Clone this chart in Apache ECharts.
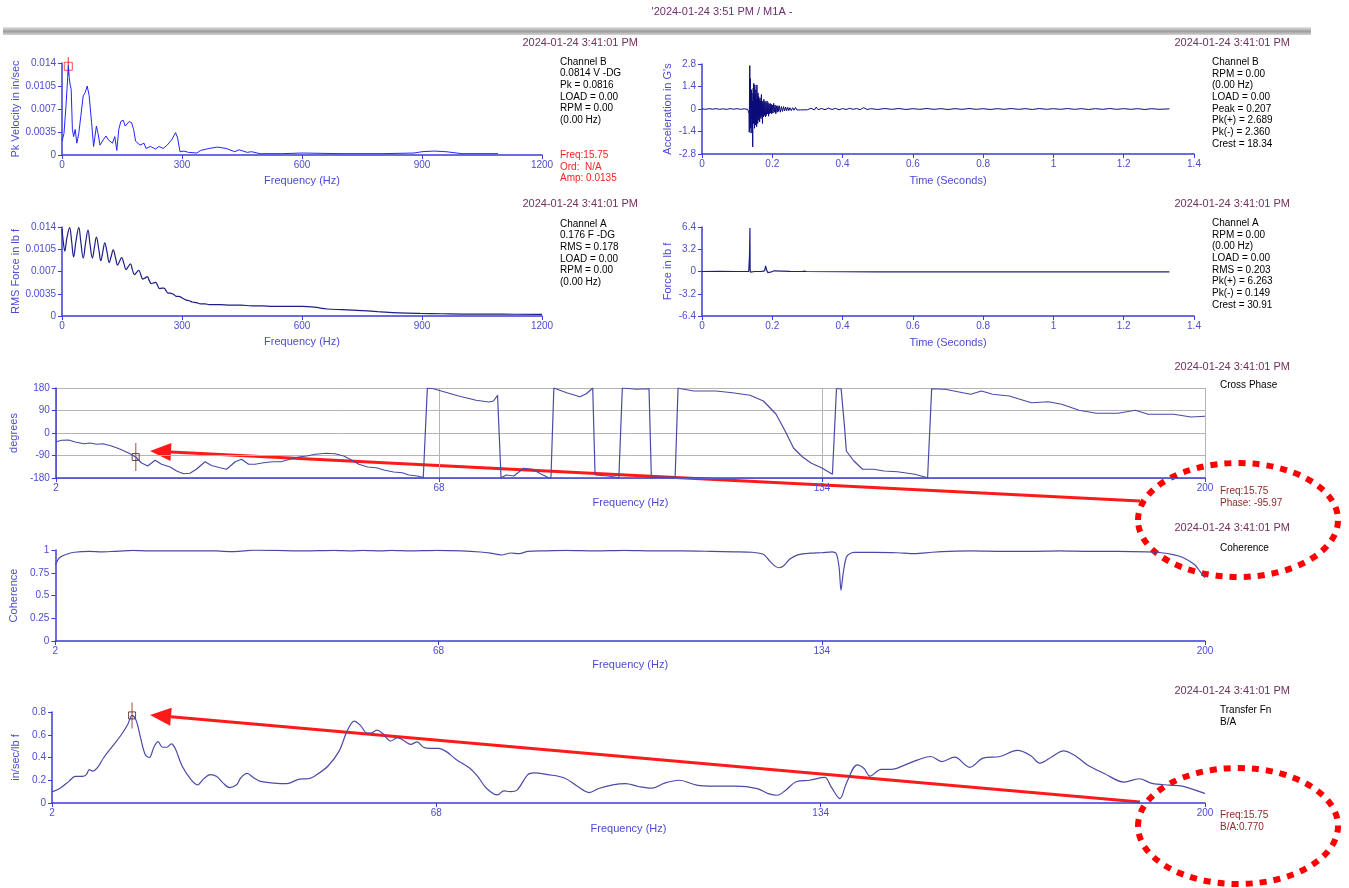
<!doctype html>
<html lang="en">
<head>
<meta charset="UTF-8" />
<title>2024-01-24 3:51 PM / M1A</title>
<script src="https://cdn.jsdelivr.net/npm/echarts@6.0.0/dist/echarts.min.js"></script>
<style>html,body{margin:0;padding:0;background:#fff;}</style>
</head>
<body>
<div id="main" style="width:1349px;height:888px"></div>
<script>
// ---- data ----
// Channel B velocity spectrum: [Hz, in/sec]
const velocitySpectrum = [[0,0.0021],[5,0.0033],[10,0.0075],[16,0.0136],[18,0.0118],[20,0.0108],[23,0.010],[26,0.0039],[29,0.0028],[33,0.0039],[37,0.0018],[42,0.0033],[47,0.0059],[53,0.009],[58,0.0095],[63,0.0105],[68,0.009],[74,0.0049],[79,0.0013],[86,0.0044],[90,0.0033],[95,0.0015],[103,0.0023],[110,0.0029],[116,0.0023],[126,0.0018],[132,0.0028],[137,0.0007],[142,0.0039],[147,0.0051],[153,0.0053],[158,0.0044],[163,0.0046],[168,0.0051],[174,0.0049],[179,0.0039],[184,0.0021],[195,0.0015],[205,0.0018],[210,0.001],[221,0.0013],[234,0.0009],[242,0.0013],[253,0.001],[263,0.0015],[274,0.0023],[284,0.0034],[289,0.0026],[295,0.0005],[305,0.0006],[316,0.0004],[337,0.0003],[347,0.0007],[368,0.001],[389,0.0012],[410,0.001],[432,0.0005],[442,0.0008],[463,0.0004],[474,0.0005],[495,0.0002],[550,0.0002],[600,0.0003],[700,0.0002],[800,0.0002],[880,0.0003],[900,0.0005],[930,0.0006],[960,0.0005],[1000,0.0002],[1090,0.0002]];

// Channel B acceleration time wave: [s, G]
const accelWave = [[0,0.01],[0.01,-0.02],[0.02,0.02],[0.03,-0.01],[0.04,0.02],[0.05,-0.02],[0.06,0.01],[0.07,-0.02],[0.08,0.02],[0.09,-0.01],[0.10,0.02],[0.11,-0.02],[0.12,0.01],[0.13,-0.02],[0.133,0],
[0.134,-0.3],[0.1345,-1.45],[0.135,0.4],[0.136,2.7],[0.1368,-0.8],[0.1375,1.9],[0.1383,-1.2],[0.139,0.9],[0.1398,-1.5],[0.1405,1.2],[0.1413,-0.6],[0.142,1.0],[0.1428,-1.1],[0.1435,0.5],[0.1443,-2.36],[0.145,0.6],[0.1458,1.3],[0.1465,-0.9],[0.1473,1.6],[0.148,-0.7],[0.1488,0.8],[0.1495,-1.2],[0.1503,1.5],[0.151,-0.5],[0.1518,0.9],[0.1525,-1.0],[0.1533,1.2],[0.154,-0.8],[0.1548,0.6],[0.1555,-1.1],[0.1563,1.5],[0.157,-0.6],[0.1578,0.7],[0.1585,-0.9],[0.1593,1.0],[0.16,-0.7],[0.161,0.8],[0.162,-0.6],[0.163,0.6],[0.164,-0.8],[0.165,0.7],[0.166,-0.5],[0.167,0.5],[0.168,-0.6],[0.169,0.9],[0.17,-0.4],[0.171,0.5],[0.172,-0.9],[0.173,0.4],[0.1745,-0.5],[0.176,0.6],[0.1775,-0.4],[0.179,0.5],[0.1805,-0.5],[0.182,0.4],[0.1835,-0.4],[0.185,0.5],[0.1865,-0.3],[0.188,0.4],[0.1895,-0.45],[0.191,0.3],[0.1925,-0.3],[0.194,0.35],[0.1955,-0.25],[0.197,0.3],[0.1985,-0.3],[0.2,0.25],[0.202,-0.25],[0.204,0.35],[0.206,-0.2],[0.208,0.25],[0.21,-0.3],[0.212,0.2],[0.214,-0.2],[0.216,0.2],[0.218,-0.15],[0.22,0.2],[0.223,-0.2],[0.226,0.15],[0.229,-0.15],[0.232,0.15],[0.235,-0.12],[0.238,0.12],[0.241,-0.1],[0.244,0.1],[0.247,-0.1],[0.25,0.08],[0.254,-0.1],[0.258,0.08],[0.262,-0.08],[0.266,0.1],[0.27,-0.06],[0.275,0.06],[0.28,-0.06],[0.285,0.05],[0.29,-0.05],[0.295,0.06],[0.3,-0.05],[0.31,0.05],[0.32,-0.06],[0.325,0.12],[0.33,-0.04],
[0.34,0.03],[0.35,-0.04],[0.36,0.05],[0.37,-0.03],[0.38,0.04],[0.39,-0.05],[0.40,0.03],[0.41,-0.03],[0.42,0.04],[0.43,-0.02],[0.44,0.03],[0.45,-0.04],[0.46,0.08],[0.47,-0.03],[0.48,0.02],[0.50,-0.03],[0.52,0.03],[0.54,-0.02],[0.56,0.03],[0.58,-0.03],[0.60,0.02],[0.62,-0.02],[0.64,0.03],[0.66,-0.02],[0.68,0.02],[0.70,-0.03],[0.72,0.02],[0.74,-0.02],[0.76,0.03],[0.78,-0.02],[0.80,0.02],[0.82,-0.03],[0.84,0.02],[0.86,-0.02],[0.88,0.03],[0.90,-0.02],[0.92,0.02],[0.94,-0.03],[0.96,0.03],[0.98,-0.02],[1.00,0.02],[1.02,-0.02],[1.04,0.03],[1.06,-0.02],[1.08,0.02],[1.10,-0.03],[1.12,0.02],[1.14,-0.02],[1.16,0.03],[1.18,-0.02],[1.20,0.02],[1.22,-0.02],[1.24,0.02],[1.26,-0.03],[1.28,0.02],[1.30,-0.02],[1.33,0.01]];

// Channel A force spectrum: [Hz, lb f RMS]
const forceSpectrum = [[0,0.0137],[3,0.0118],[7,0.0102],[12,0.0122],[19,0.0139],[24,0.0118],[29,0.0093],[35,0.0118],[42,0.0139],[47,0.0117],[53,0.0091],[59,0.0115],[65,0.0135],[70,0.0113],[76,0.0091],[81,0.0108],[86,0.0124],[92,0.0105],[97,0.0087],[102,0.0101],[107,0.0115],[113,0.0099],[118,0.0084],[123,0.0094],[128,0.0104],[134,0.0091],[139,0.008],[144,0.0086],[149,0.0092],[155,0.0082],[160,0.0073],[166,0.0078],[171,0.0082],[176,0.0073],[181,0.0065],[187,0.0069],[192,0.0072],[197,0.0065],[202,0.0058],[208,0.006],[213,0.0062],[218,0.0056],[223,0.0051],[229,0.0052],[234,0.0053],[239,0.0048],[244,0.0043],[250,0.0044],[255,0.0044],[260,0.004],[265,0.0036],[271,0.0036],[276,0.0035],[281,0.0033],[286,0.0031],[292,0.0031],[297,0.003],[304,0.0027],[311,0.0025],[318,0.0024],[326,0.0022],[336,0.0021],[347,0.0019],[358,0.0019],[368,0.0018],[395,0.0018],[421,0.0017],[448,0.0017],[474,0.0016],[500,0.0016],[526,0.0015],[560,0.0015],[600,0.0015],[630,0.0014],[663,0.0011],[700,0.001],[737,0.0009],[789,0.0007],[842,0.0005],[895,0.0004],[950,0.00035],[1000,0.0003],[1100,0.00028],[1200,0.00026]];

// Channel A force time wave: [s, lb f]
const forceWave = [[0,0],[0.05,0.02],[0.1,0],[0.133,0.02],[0.1345,0.1],[0.1352,2.3],[0.1358,2.3],[0.1364,6.263],[0.137,0.3],[0.1378,-0.1],[0.14,0.05],[0.15,0],[0.17,0.02],[0.178,0.1],[0.181,0.8],[0.184,0.2],[0.187,-0.15],[0.19,0.05],[0.195,-0.1],[0.2,0.05],[0.205,0.1],[0.21,0],[0.25,0.02],[0.285,0],[0.288,-0.15],[0.291,0.05],[0.294,-0.12],[0.297,0],[0.3,-0.03],[0.5,-0.04],[0.8,-0.05],[1.0,-0.05],[1.33,-0.05]];

// Cross phase: [Hz, degrees]
const crossPhase = [[2,-35],[3,-29],[4.2,-28],[5.3,-36],[6.8,-43],[7.9,-40],[9,-45],[10.1,-43],[11.6,-52],[13.1,-65],[14.6,-81],[15.75,-96],[16.7,-119],[17.8,-132],[19.1,-109],[20.2,-125],[21.7,-136],[22.8,-152],[24,-163],[25.1,-161],[26.2,-145],[27.7,-115],[28.8,-130],[30.3,-139],[31.4,-145],[32.9,-115],[34,-105],[35.2,-125],[36.3,-125],[37.8,-119],[39.3,-115],[40.8,-115],[42.3,-105],[43.8,-96],[45.2,-92],[46.7,-85],[48.6,-81],[50.1,-83],[51.6,-92],[52.7,-105],[54.2,-125],[55.7,-136],[57.2,-139],[58.7,-149],[60.2,-156],[61.7,-159],[62.8,-168],[64.3,-172],[65.3,-178],[65.5,-180],[66,179],[66.9,178],[68.4,168],[71.4,148],[74.4,131],[76.6,124],[77.4,128],[78.1,151],[78.7,-179],[79.6,-168],[80.9,-172],[82.6,-141],[84.1,-145],[85.5,-163],[86.9,-179],[87.3,-180],[87.8,180],[90,161],[92.3,145],[93.4,157],[94.5,180],[94.9,-168],[97.1,-172],[98.6,-177],[99,-180],[99.6,180],[102,175],[104.2,177],[104.6,-176],[108.7,-176],[109.2,180],[109.7,177],[111.9,168],[115.7,168],[118.6,161],[121.6,151],[123.9,128],[126.1,75],[127.6,10],[129.1,-60],[130.6,-95],[132.1,-120],[134,-140],[135.8,-165],[136.5,177],[137.3,177],[137.9,21],[138.2,-72],[139.5,-112],[141,-145],[142.9,-145],[144.7,-152],[147,-155],[150,-165],[152.2,-179],[152.9,177],[155.2,175],[157.4,165],[159.6,155],[161.5,168],[163.4,155],[166.3,148],[167.8,137],[170.1,121],[173,125],[175.3,115],[178.3,91],[181.3,79],[185,79],[188,91],[190.2,75],[194.6,75],[197.6,64],[200,67]];

// Coherence: [Hz, coherence]
const coherence = [[2,0.84],[2.7,0.915],[3.8,0.95],[5.3,0.975],[7.9,0.985],[10,0.98],[12,0.985],[15.4,0.995],[18,0.99],[22,0.99],[26,0.99],[29.6,0.99],[31,0.985],[32.6,0.982],[34.5,0.99],[36.3,0.998],[40,0.995],[45,0.99],[50,0.995],[53,0.99],[55,0.995],[58,0.99],[60,0.995],[63,0.99],[67.7,0.995],[72,0.99],[75.2,0.978],[77,0.965],[78.9,0.945],[80.4,0.967],[81.9,0.96],[83.4,0.985],[86,0.99],[90,0.995],[95,0.99],[100,0.995],[105,0.99],[110,0.99],[115,0.985],[119,0.98],[122,0.975],[124,0.95],[125,0.88],[126,0.82],[126.7,0.805],[127.5,0.83],[128.5,0.9],[130,0.95],[132,0.965],[134,0.97],[135.8,0.98],[136.5,0.96],[137,0.8],[137.3,0.555],[137.7,0.75],[138.3,0.93],[139.5,0.975],[143,0.975],[147,0.97],[150,0.96],[153,0.975],[156,0.985],[160,0.99],[165,0.985],[170,0.985],[175,0.99],[180,0.985],[185,0.985],[190,0.98],[192.5,0.97],[194.5,0.95],[196.1,0.92],[198.2,0.84],[199.2,0.76],[200,0.695]];

// Transfer function B/A: [Hz, in/sec/lb f]
const transferFn = [[2,0.098],[3.4,0.13],[4.9,0.19],[6,0.234],[7.2,0.234],[7.9,0.25],[8.4,0.293],[9,0.28],[9.8,0.31],[10.9,0.4],[12.4,0.5],[13.9,0.6],[15,0.69],[15.75,0.77],[16.5,0.72],[17.2,0.575],[18,0.427],[18.7,0.4],[19.5,0.49],[20.2,0.54],[21,0.49],[21.7,0.49],[22.5,0.52],[23.2,0.475],[24.3,0.33],[25.8,0.21],[27,0.16],[28,0.21],[29.2,0.25],[30.3,0.234],[31.4,0.175],[32.5,0.136],[33.7,0.16],[34.4,0.22],[35.5,0.26],[36.7,0.22],[37.8,0.19],[40.1,0.175],[42.3,0.17],[44.5,0.21],[46,0.213],[47.5,0.25],[49.4,0.325],[51.3,0.456],[52.7,0.634],[53.9,0.72],[55,0.68],[56.1,0.615],[56.8,0.615],[57.8,0.64],[58.7,0.615],[60.2,0.545],[61.3,0.575],[62.5,0.545],[63.6,0.515],[64.7,0.537],[65.8,0.49],[67,0.48],[68.4,0.48],[69.6,0.456],[71.4,0.383],[73.7,0.308],[75.1,0.234],[76.6,0.13],[78.5,0.071],[79.6,0.107],[80.7,0.1],[81.9,0.116],[83.7,0.25],[84.8,0.265],[87.1,0.25],[90,0.22],[92.3,0.145],[94.2,0.092],[96,0.13],[98.3,0.16],[100.5,0.17],[102.7,0.145],[105,0.13],[107.2,0.175],[109.7,0.2],[112.7,0.157],[115.7,0.148],[119.4,0.148],[123.1,0.127],[125,0.083],[126.5,0.068],[128,0.113],[129.8,0.187],[132.1,0.2],[134.7,0.225],[135.8,0.142],[137.3,0.039],[138.4,0.172],[140.3,0.335],[141.4,0.305],[142.5,0.237],[144.4,0.296],[146.2,0.296],[148.5,0.335],[150.7,0.379],[152.9,0.409],[154.8,0.364],[157,0.403],[159.6,0.314],[161.9,0.394],[164.8,0.409],[167.8,0.462],[170.1,0.415],[171.6,0.35],[173.8,0.409],[175.7,0.459],[177.9,0.409],[179.8,0.335],[182.7,0.26],[186.1,0.184],[188.7,0.213],[190.9,0.172],[193.9,0.157],[196.1,0.148],[200,0.083]];

// cursor readings
const cursorFreq = 15.75;
const cursorAmp = 0.0135;
const cursorPhase = -95.97;
const cursorBA = 0.770;

// ---- styling ----
const FONT = "Liberation Sans, Arial, sans-serif";
const AXIS_BLUE = "#3c3cd8";
const LABEL_BLUE = "#4b4bd2";
const STAMP = "#74305e";
const STAMP_TEXT = "2024-01-24 3:41:01 PM";

const fmt = (v) => String(+v.toFixed(6));

function xAxisOf(grid, min, max, interval, name, gap, split) {
    return {
        type: "value", gridIndex: grid, position: "bottom",
        min: min, max: max, interval: interval,
        name: name, nameLocation: "middle", nameGap: gap,
        nameTextStyle: { color: LABEL_BLUE, fontSize: 11, fontFamily: FONT },
        axisLine: { onZero: false, lineStyle: { color: AXIS_BLUE, width: 1.5 } },
        axisTick: { length: 4, lineStyle: { color: AXIS_BLUE } },
        axisLabel: { color: LABEL_BLUE, fontSize: 10, fontFamily: FONT, margin: 5, formatter: fmt },
        splitLine: { show: !!split, lineStyle: { color: "#b4b4b4" } },
    };
}

function yAxisOf(grid, min, max, interval, name, gap, split) {
    return {
        type: "value", gridIndex: grid,
        min: min, max: max, interval: interval,
        name: name, nameLocation: "middle", nameGap: gap,
        nameTextStyle: { color: LABEL_BLUE, fontSize: 11, fontFamily: FONT },
        axisLine: { show: true, onZero: false, lineStyle: { color: AXIS_BLUE, width: 1.5 } },
        axisTick: { show: true, length: 4, lineStyle: { color: AXIS_BLUE } },
        axisLabel: { color: LABEL_BLUE, fontSize: 10, fontFamily: FONT, margin: 6, formatter: fmt },
        splitLine: { show: !!split, lineStyle: { color: "#b4b4b4" } },
    };
}

function lineOf(idx, data, color, width, smooth) {
    return {
        type: "line", xAxisIndex: idx, yAxisIndex: idx, data: data,
        showSymbol: false, symbol: "none", animation: false,
        smooth: smooth || false,
        lineStyle: { color: color, width: width },
    };
}

function markOf(idx, point, symbolSize, color, border) {
    return {
        type: "scatter", xAxisIndex: idx, yAxisIndex: idx, data: [point],
        symbol: "rect", symbolSize: symbolSize, animation: false, silent: true,
        itemStyle: border
            ? { color: "rgba(255,255,255,0)", borderColor: color, borderWidth: 1 }
            : { color: color },
    };
}

function text(x, y, str, opts) {
    opts = opts || {};
    return {
        type: "text", x: x, y: y, silent: true,
        style: {
            text: str, fill: opts.fill || "#000",
            font: (opts.size || 10) + "px " + FONT,
            lineHeight: opts.lh || 11.7,
            align: opts.align || "left", textAlign: opts.align || "left",
            verticalAlign: "middle", textVerticalAlign: "middle",
        },
    };
}

function arrow(tip, tail, color) {
    const dx = tail[0] - tip[0], dy = tail[1] - tip[1];
    const len = Math.sqrt(dx * dx + dy * dy);
    const ux = dx / len, uy = dy / len;
    const bx = tip[0] + ux * 21, by = tip[1] + uy * 21;
    const px = -uy * 9, py = ux * 9;
    return [
        { type: "line", silent: true, shape: { x1: tail[0], y1: tail[1], x2: bx, y2: by },
          style: { stroke: color, lineWidth: 3 } },
        { type: "polygon", silent: true,
          shape: { points: [tip, [bx + px, by + py], [bx - px, by - py]] },
          style: { fill: color } },
    ];
}

function ring(cx, cy, rx, ry) {
    return {
        type: "ellipse", silent: true, shape: { cx: cx, cy: cy, rx: rx, ry: ry },
        style: { fill: null, stroke: "#ff0000", lineWidth: 6, lineDash: [7, 7] },
    };
}

const chart = echarts.init(document.getElementById("main"));

const option = {
    animation: false,
    grid: [
        { left: 62, top: 63, width: 480, height: 92 },
        { left: 702, top: 64, width: 492, height: 90 },
        { left: 62, top: 227, width: 480, height: 89 },
        { left: 702, top: 227, width: 492, height: 89 },
        { left: 52, top: 388, width: 1153, height: 90 },
        { left: 52, top: 550, width: 1153, height: 91 },
        { left: 52, top: 712, width: 1153, height: 91 },
    ],
    xAxis: [
        xAxisOf(0, 0, 1200, 300, "Frequency (Hz)", 20),
        xAxisOf(1, 0, 1.4, 0.2, "Time (Seconds)", 21),
        xAxisOf(2, 0, 1200, 300, "Frequency (Hz)", 20),
        xAxisOf(3, 0, 1.4, 0.2, "Time (Seconds)", 21),
        xAxisOf(4, 2, 200, 66, "Frequency (Hz)", 19, true),
        xAxisOf(5, 2, 200, 66, "Frequency (Hz)", 18),
        xAxisOf(6, 2, 200, 66, "Frequency (Hz)", 20),
    ],
    yAxis: [
        yAxisOf(0, 0, 0.014, 0.0035, "Pk Velocity in in/sec", 40),
        yAxisOf(1, -2.8, 2.8, 1.4, "Acceleration in G's", 29),
        yAxisOf(2, 0, 0.014, 0.0035, "RMS Force in lb f", 40),
        yAxisOf(3, -6.4, 6.4, 3.2, "Force in lb f", 29),
        yAxisOf(4, -180, 180, 90, "degrees", 30, true),
        yAxisOf(5, 0, 1, 0.25, "Coherence", 30),
        yAxisOf(6, 0, 0.8, 0.2, "in/sec/lb f", 27),
    ],
    series: [
        lineOf(0, velocitySpectrum, "#2424ff", 1),
        lineOf(1, accelWave, "#0a0a78", 1),
        lineOf(2, forceSpectrum, "#1e1e86", 1.2, 0.4),
        lineOf(3, forceWave, "#1e1e86", 1.2),
        lineOf(4, crossPhase, "#4a4aa6", 1.2),
        lineOf(5, coherence, "#4a4aa6", 1.2, 0.25),
        lineOf(6, transferFn, "#4a4aa6", 1.2, 0.35),
        markOf(0, [cursorFreq, cursorAmp], [1.2, 18], "#ff2020", false),
        markOf(0, [cursorFreq, cursorAmp], 8, "#ff2020", true),
        markOf(4, [cursorFreq, cursorPhase], [1.5, 28], "#b8685a", false),
        markOf(4, [cursorFreq, cursorPhase], 7, "#4a1a1a", true),
        markOf(6, [cursorFreq, cursorBA], [1.5, 26], "#b8685a", false),
        markOf(6, [cursorFreq, cursorBA], 7, "#4a1a1a", true),
    ],
    graphic: [].concat(
        [
            {
                type: "rect", silent: true, shape: { x: 3, y: 27, width: 1308, height: 8 },
                style: {
                    fill: new echarts.graphic.LinearGradient(0, 0, 0, 1, [
                        { offset: 0, color: "#e6e6e6" },
                        { offset: 0.55, color: "#9c9c9c" },
                        { offset: 1, color: "#d4d4d4" },
                    ]),
                },
            },
            text(722, 12, "'2024-01-24 3:51 PM / M1A -", { size: 11, fill: "#6e2f6e", align: "center" }),
            // timestamps
            text(638, 43, STAMP_TEXT, { size: 11, fill: STAMP, align: "right" }),
            text(1290, 43, STAMP_TEXT, { size: 11, fill: STAMP, align: "right" }),
            text(638, 204, STAMP_TEXT, { size: 11, fill: STAMP, align: "right" }),
            text(1290, 204, STAMP_TEXT, { size: 11, fill: STAMP, align: "right" }),
            text(1290, 367, STAMP_TEXT, { size: 11, fill: STAMP, align: "right" }),
            text(1290, 528, STAMP_TEXT, { size: 11, fill: STAMP, align: "right" }),
            text(1290, 691, STAMP_TEXT, { size: 11, fill: STAMP, align: "right" }),
            // info blocks
            text(560, 91, "Channel B\n0.0814 V -DG\nPk = 0.0816\nLOAD = 0.00\nRPM = 0.00\n(0.00 Hz)"),
            text(560, 167, "Freq:15.75\nOrd:  N/A\nAmp: 0.0135", { fill: "#ff2020" }),
            text(1212, 103, "Channel B\nRPM = 0.00\n(0.00 Hz)\nLOAD = 0.00\nPeak = 0.207\nPk(+) = 2.689\nPk(-) = 2.360\nCrest = 18.34"),
            text(560, 253, "Channel A\n0.176 F -DG\nRMS = 0.178\nLOAD = 0.00\nRPM = 0.00\n(0.00 Hz)"),
            text(1212, 264, "Channel A\nRPM = 0.00\n(0.00 Hz)\nLOAD = 0.00\nRMS = 0.203\nPk(+) = 6.263\nPk(-) = 0.149\nCrest = 30.91"),
            text(1220, 385, "Cross Phase"),
            text(1220, 497, "Freq:15.75\nPhase: -95.97", { fill: "#8b2a2a" }),
            text(1220, 548, "Coherence"),
            text(1220, 716, "Transfer Fn\nB/A"),
            text(1220, 821, "Freq:15.75\nB/A:0.770", { fill: "#8b2a2a" }),
        ],
        arrow([150, 451], [1140, 501], "#ff1a1a"),
        arrow([150, 715], [1140, 802], "#ff1a1a"),
        [ring(1238, 520, 100, 57), ring(1238, 826, 100, 58)]
    ),
};

chart.setOption(option);
</script>
</body>
</html>
